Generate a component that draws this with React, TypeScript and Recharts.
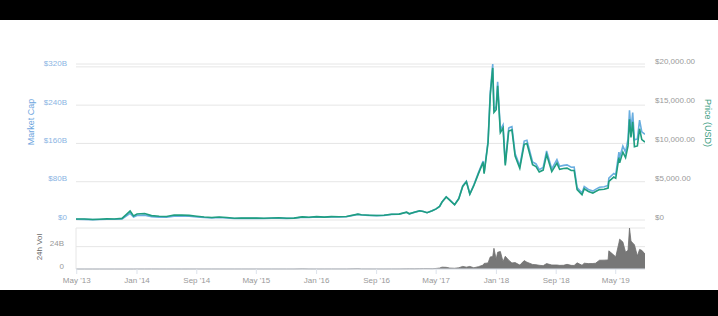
import React from "react";
import { ComposedChart, AreaChart, Area, Line, XAxis, YAxis, CartesianGrid } from "recharts";

// sample dates (roughly monthly early on, denser from 2017)
const dates = [
  "2013-04-28", "2013-06-01", "2013-07-05", "2013-08-01", "2013-09-01", "2013-10-01", "2013-11-01", "2013-11-18", "2013-12-04", "2013-12-18",
  "2014-01-01", "2014-02-01", "2014-03-01", "2014-04-01", "2014-05-01", "2014-06-01", "2014-07-01", "2014-08-01", "2014-09-01", "2014-10-01", "2014-11-01", "2014-12-01",
  "2015-01-01", "2015-02-01", "2015-03-01", "2015-04-01", "2015-05-01", "2015-06-01", "2015-07-01", "2015-08-01", "2015-09-01", "2015-10-01", "2015-11-04", "2015-12-01",
  "2016-01-01", "2016-02-01", "2016-03-01", "2016-04-01", "2016-05-01", "2016-06-17", "2016-07-01", "2016-08-01", "2016-09-01", "2016-10-01", "2016-11-01", "2016-12-01",
  "2017-01-01", "2017-01-12", "2017-02-01", "2017-02-23", "2017-03-10", "2017-03-25", "2017-04-15", "2017-05-01", "2017-05-15", "2017-05-25", "2017-06-11", "2017-06-25", "2017-07-15",
  "2017-08-01", "2017-08-17", "2017-09-01", "2017-09-15", "2017-10-01", "2017-10-20", "2017-11-08", "2017-11-12", "2017-11-28", "2017-12-07", "2017-12-17", "2017-12-22", "2017-12-31",
  "2018-01-06", "2018-01-17", "2018-01-28", "2018-02-06", "2018-02-20", "2018-03-05", "2018-03-18", "2018-04-06", "2018-04-24", "2018-05-05", "2018-05-28", "2018-06-11", "2018-06-24",
  "2018-07-10", "2018-07-24", "2018-08-14", "2018-09-04", "2018-09-15", "2018-10-01", "2018-10-15", "2018-11-01", "2018-11-13", "2018-11-25", "2018-12-15", "2018-12-24",
  "2019-01-10", "2019-01-28", "2019-02-08", "2019-02-24", "2019-03-15", "2019-03-31", "2019-04-03", "2019-04-23", "2019-05-01", "2019-05-14", "2019-05-17",
  "2019-05-30", "2019-06-10", "2019-06-20", "2019-06-26", "2019-07-02", "2019-07-09", "2019-07-16", "2019-07-28", "2019-08-06", "2019-08-15", "2019-08-28",
];

// price in USD
const price = [
  135, 129, 68, 105, 146, 132, 204, 700, 1150, 520,
  770, 830, 565, 480, 450, 630, 640, 590, 480, 390, 330, 380,
  315, 225, 260, 245, 235, 225, 260, 280, 230, 237, 400, 360,
  434, 370, 435, 417, 450, 750, 670, 610, 570, 610, 730, 750,
  1000, 800, 990, 1180, 1100, 940, 1180, 1420, 1730, 2300, 2950, 2550, 1950,
  2720, 4300, 4900, 3300, 4400, 5950, 7400, 5950, 9900, 16000, 19500, 13800, 14150,
  17200, 11200, 11800, 7000, 11400, 11550, 8200, 6640, 9700, 9800, 7100, 6850, 6150,
  6400, 8400, 6200, 7300, 6500, 6600, 6650, 6350, 6350, 3900, 3240, 4000,
  3650, 3450, 3650, 3900, 3950, 4100, 4950, 5500, 5350, 8000, 7350,
  8700, 8000, 9500, 12900, 10600, 12600, 9400, 9500, 11700, 10300, 10000,
];

// market cap in billions USD
const marketCap = [
  1.5, 1.4, 0.8, 1.2, 1.7, 1.5, 2.4, 8.4, 13.9, 6.3,
  9.4, 10.2, 7.0, 6.0, 5.7, 8.1, 8.3, 7.7, 6.3, 5.1, 4.4, 5.1,
  4.3, 3.1, 3.6, 3.4, 3.3, 3.2, 3.7, 4.0, 3.3, 3.5, 5.9, 5.3,
  6.5, 5.6, 6.6, 6.4, 6.9, 11.7, 10.5, 9.6, 9.1, 9.7, 11.7, 12.0,
  16.1, 12.9, 15.9, 19.0, 17.8, 15.2, 19.2, 23.2, 28.3, 37.6, 48.4, 41.9, 32.1,
  44.9, 71.1, 81.0, 54.7, 73.0, 99.0, 123.3, 99.2, 165.1, 267.0, 326.0, 231.0, 237.0,
  288.6, 188.2, 198.6, 118.0, 192.4, 195.2, 138.8, 112.7, 164.9, 166.8, 121.1, 117.1, 105.2,
  109.7, 144.2, 106.7, 126.0, 112.3, 114.2, 115.2, 110.2, 110.4, 67.9, 56.5, 69.8,
  63.8, 60.4, 64.0, 68.5, 69.5, 72.2, 87.3, 97.2, 94.6, 141.7, 130.2,
  154.3, 142.0, 168.8, 229.4, 188.6, 224.3, 167.5, 169.5, 208.8, 184.1, 179.0,
];

// 24h volume in billions USD
const volume = [
  0, 0, 0, 0, 0, 0, 0, 0, 0, 0,
  0.03, 0.04, 0.05, 0.03, 0.02, 0.02, 0.01, 0.02, 0.02, 0.03, 0.02, 0.02,
  0.02, 0.03, 0.03, 0.02, 0.02, 0.02, 0.02, 0.03, 0.03, 0.03, 0.15, 0.06,
  0.04, 0.05, 0.07, 0.05, 0.05, 0.3, 0.1, 0.08, 0.06, 0.06, 0.1, 0.1,
  0.15, 0.2, 0.15, 0.3, 0.4, 0.4, 0.3, 0.6, 1.0, 2.0, 1.8, 1.0, 0.8,
  1.3, 2.8, 2.0, 2.8, 1.3, 2.5, 4.2, 6.0, 6.5, 13.0, 13.3, 22.2, 10.3,
  18.0, 18.8, 7.8, 13.7, 9.5, 6.5, 6.9, 4.2, 9.0, 7.3, 4.9, 4.6, 4.0,
  3.6, 5.8, 4.3, 4.3, 3.9, 4.0, 5.0, 3.9, 3.8, 6.6, 4.0, 6.2,
  5.8, 5.9, 6.2, 9.4, 9.5, 9.7, 19.5, 15.0, 13.0, 28.0, 32.0,
  29.0, 18.0, 20.0, 44.0, 30.0, 28.0, 26.0, 14.0, 21.0, 20.0, 16.0,
];

const tickDates = ["2013-05-01", "2014-01-01", "2014-09-01", "2015-05-01", "2016-01-01", "2016-09-01", "2017-05-01", "2018-01-01", "2018-09-01", "2019-05-01"];
const tickLabels = ["May '13", "Jan '14", "Sep '14", "May '15", "Jan '16", "Sep '16", "May '17", "Jan '18", "Sep '18", "May '19"];
const capTicks = [0, 80, 160, 240, 320];
const priceTicks = [0, 5000, 10000, 15000, 20000];
const volTicks = [0, 24, 44];

const toTime = (d: string) => Date.parse(d + "T00:00:00Z");
const rows = dates.map((d, i) => ({ t: toTime(d), price: price[i], cap: marketCap[i], vol: volume[i] }));
const xDomain = [toTime("2013-04-28"), toTime("2019-08-28")];
const tickTimes = tickDates.map(toTime);

const FONT = "'Liberation Sans', Arial, sans-serif";
const GRID = "#e6e6e6";

const fmtCap = (v: number) => (v === 0 ? "$0" : `$${v}B`);
const fmtPrice = (v: number) =>
  v === 0 ? "$0" : "$" + v.toLocaleString("en-US", { minimumFractionDigits: 2, maximumFractionDigits: 2 });
const fmtVol = (v: number) => (v === 0 ? "0" : v === 24 ? "24B" : "");

const AxisTick = (props: any) => {
  const { x, y, payload, anchor, fill, fmt } = props;
  return (
    <text x={x} y={y - 3} textAnchor={anchor} dominantBaseline="central" fontSize={8} fill={fill} fontFamily={FONT}>
      {fmt(payload.value)}
    </text>
  );
};

export default function App() {
  return (
    <div style={{ position: "absolute", left: 0, top: 0, width: 718, height: 316, background: "#fff", fontFamily: FONT }}>
      <div style={{ position: "absolute", left: 0, top: 200, width: 718, height: 100 }}>
        <AreaChart width={718} height={100} data={rows} margin={{ top: 28, right: 73, bottom: 9, left: 36 }}>
          <CartesianGrid vertical={false} stroke={GRID} />
          <XAxis
            dataKey="t"
            type="number"
            domain={xDomain}
            ticks={tickTimes}
            interval={0}
            allowDataOverflow
            tickFormatter={(v: number) => tickLabels[tickTimes.indexOf(v)]}
            tick={{ fontSize: 8, fill: "#999", fontFamily: FONT }}
            axisLine={{ stroke: "#dde3ec" }}
            tickLine={{ stroke: "#dde3ec" }}
            tickSize={5}
            tickMargin={3}
            height={22}
          />
          <YAxis
            type="number"
            domain={[0, 44]}
            ticks={volTicks}
            interval={0}
            width={40}
            axisLine={{ stroke: "#e6e6e6" }}
            tickLine={false}
            tickSize={0}
            tickMargin={12}
            tick={(p: any) => <AxisTick {...p} anchor="end" fill="#999" fmt={fmtVol} />}
          />
          <Area type="linear" dataKey="vol" stroke="#707070" strokeWidth={0.8} fill="#707070" fillOpacity={0.95} isAnimationActive={false} />
        </AreaChart>
      </div>

      <div style={{ position: "absolute", left: 0, top: 0, width: 718, height: 230 }}>
        <ComposedChart width={718} height={230} data={rows} margin={{ top: 64, right: 13, bottom: 10, left: 36 }}>
          <CartesianGrid vertical={false} stroke={GRID} yAxisId="cap" />
          <XAxis dataKey="t" type="number" domain={xDomain} hide allowDataOverflow />
          <YAxis
            yAxisId="cap"
            orientation="left"
            domain={[0, 320]}
            ticks={capTicks}
            interval={0}
            width={40}
            axisLine={false}
            tickLine={false}
            tickSize={0}
            tickMargin={9}
            tick={(p: any) => <AxisTick {...p} anchor="end" fill="#8ab4e3" fmt={fmtCap} />}
          />
          <YAxis
            yAxisId="price"
            orientation="right"
            domain={[0, 20000]}
            ticks={priceTicks}
            interval={0}
            width={60}
            axisLine={false}
            tickLine={false}
            tickSize={0}
            tickMargin={10}
            tick={(p: any) => <AxisTick {...p} anchor="start" fill="#9a9a9a" fmt={fmtPrice} />}
          />
          <Line yAxisId="cap" type="linear" dataKey="cap" stroke="#6aaee0" strokeWidth={1.6} dot={false} isAnimationActive={false} />
          <Line yAxisId="price" type="linear" dataKey="price" stroke="#1f9e80" strokeWidth={1.6} dot={false} isAnimationActive={false} />
        </ComposedChart>
      </div>

      <div style={{ position: "absolute", left: 31, top: 122, transform: "translate(-50%, -50%) rotate(-90deg)", fontSize: 9, color: "#6ea6de", whiteSpace: "nowrap" }}>
        Market Cap
      </div>
      <div style={{ position: "absolute", left: 708, top: 123, transform: "translate(-50%, -50%) rotate(90deg)", fontSize: 9, color: "#3a9d7f", whiteSpace: "nowrap" }}>
        Price (USD)
      </div>
      <div style={{ position: "absolute", left: 39, top: 247, transform: "translate(-50%, -50%) rotate(-90deg)", fontSize: 8, color: "#666", whiteSpace: "nowrap" }}>
        24h Vol
      </div>

      <div style={{ position: "absolute", left: 0, top: 0, width: 718, height: 20, background: "#000" }} />
      <div style={{ position: "absolute", left: 0, top: 290, width: 718, height: 26, background: "#000" }} />
    </div>
  );
}
